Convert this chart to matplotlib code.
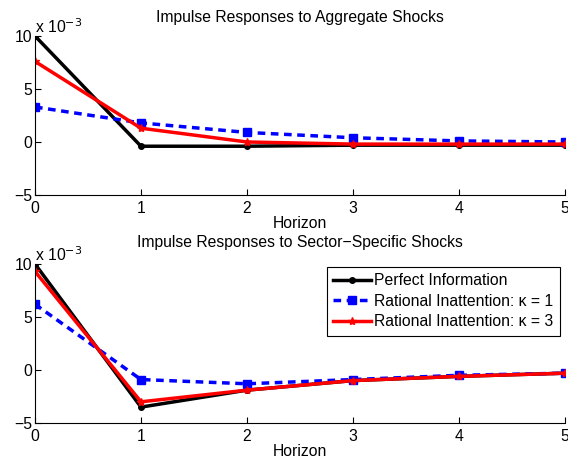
import matplotlib
matplotlib.use("Agg")
import matplotlib.pyplot as plt
import numpy as np

plt.rcParams['font.family'] = ['Liberation Sans', 'DejaVu Sans']

horizon = [0, 1, 2, 3, 4, 5]
agg_perfect = [10.0, -0.4, -0.4, -0.3, -0.3, -0.3]
agg_ri_k1 = [3.3, 1.8, 0.9, 0.4, 0.1, 0.0]
agg_ri_k3 = [7.6, 1.3, 0.0, -0.2, -0.2, -0.2]

sec_perfect = [10.0, -3.5, -1.9, -1.0, -0.6, -0.3]
sec_ri_k1 = [6.2, -0.9, -1.3, -0.9, -0.5, -0.3]
sec_ri_k3 = [9.3, -3.0, -1.9, -1.0, -0.6, -0.3]

titles = ['Impulse Responses to Aggregate Shocks',
          'Impulse Responses to Sector\u2212Specific Shocks']
labels = ['Perfect Information', 'Rational Inattention: \u03ba = 1', 'Rational Inattention: \u03ba = 3']
yticks = [-5, 0, 5, 10]
ytick_labels = ['\u22125', '0', '5', '10']

FS = 11.3

fig = plt.figure(figsize=(5.68, 4.61), dpi=100)
positions = [[0.0616, 0.577, 0.933, 0.345], [0.0616, 0.0824, 0.933, 0.345]]
data = [(agg_perfect, agg_ri_k1, agg_ri_k3), (sec_perfect, sec_ri_k1, sec_ri_k3)]

for i, (pos, (p, k1, k3)) in enumerate(zip(positions, data)):
    ax = fig.add_axes(pos)
    ax.plot(horizon, p, color='black', lw=2.5, marker='.', ms=8, label=labels[0])
    ax.plot(horizon, k1, color='blue', lw=2.5, ls=(0, (2.2, 1.6)), marker='s', ms=6, label=labels[1])
    ax.plot(horizon, k3, color='red', lw=2.5, marker='*', ms=6, label=labels[2])
    ax.set_xlim(0, 5)
    ax.set_ylim(-5, 10)
    ax.set_xticks(horizon)
    ax.set_yticks(yticks)
    ax.set_yticklabels(ytick_labels)
    ax.spines['top'].set_visible(False)
    ax.spines['right'].set_visible(False)
    ax.tick_params(direction='in', length=4, labelsize=FS)
    ax.tick_params(axis='x', pad=4)
    ax.tick_params(axis='y', pad=2)
    ax.set_xlabel('Horizon', fontsize=FS, labelpad=0)
    ax.set_title(titles[i], fontsize=FS, pad=10 if i == 0 else 12)
    ax.text(0.0, 1.0, r'x 10$^{-3}$', transform=ax.transAxes, fontsize=FS, ha='left', va='bottom')
    if i == 1:
        leg = ax.legend(loc='upper right', fontsize=FS, fancybox=False, framealpha=1,
                        edgecolor='black', handlelength=2.4, borderpad=0.4, labelspacing=0.35,
                        handletextpad=0.2, borderaxespad=0, bbox_to_anchor=(0.99, 0.98))
        leg.get_frame().set_linewidth(0.8)

fig.savefig('out.png', dpi=100)
